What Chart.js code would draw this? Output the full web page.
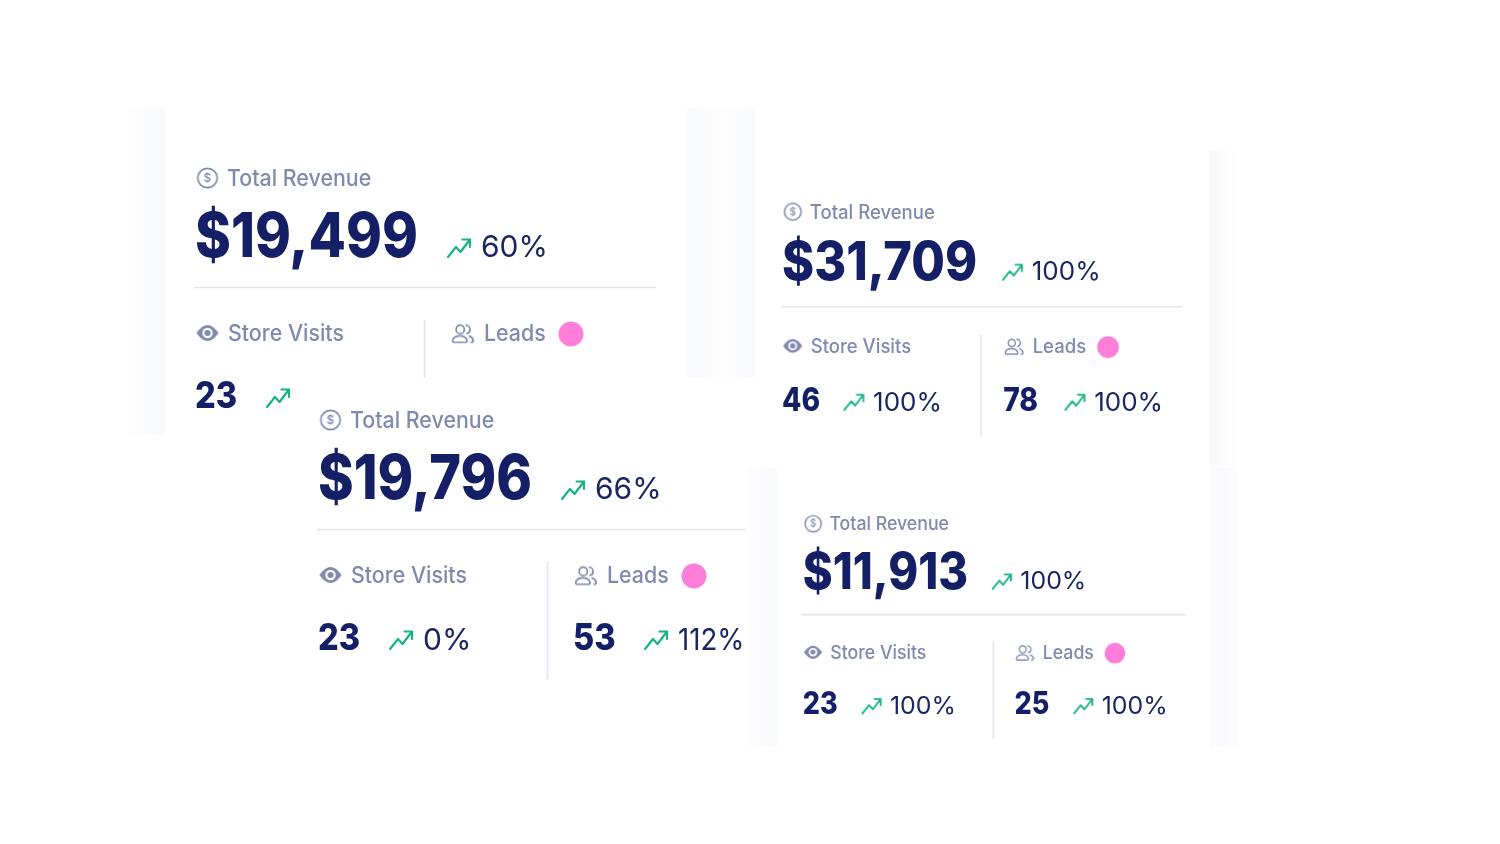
<!DOCTYPE html>
<html><head><meta charset="utf-8">
<style>html,body{margin:0;padding:0;background:#fff;overflow:hidden}canvas{display:block}</style>
<script src="https://cdn.jsdelivr.net/npm/chart.js@4"></script>
</head><body><canvas id="c" width="1500" height="844"></canvas>
<script>
// ---- values (cards: top-left, top-right, centre, bottom-right)
const revenue        = [19499, 31709, 19796, 11913];
const revenueChange  = [60, 100, 66, 100];
const storeVisits    = [23, 46, 23, 23];
const visitsChange   = [null, 100, 0, 100];
const leads          = [null, 78, 53, 25];
const leadsChange    = [null, 100, 112, 100];
const revenueLabel = 'Total Revenue', visitsLabel = 'Store Visits', leadsLabel = 'Leads';

// ---- layout: every card is the same template, translated and scaled
const cards = [
  {x0:0,   y0:0,    s:1,    maxX:656, maxY:378, bigW:223, leadsH:1},
  {x0:613, y0:57.5, s:.867, maxX:9999,maxY:9999,bigW:225, leadsH:1},
  {x0:123, y0:242,  s:1,    maxX:746, maxY:9999,bigW:214, leadsH:.92},
  {x0:641, y0:376,  s:.83,  maxX:9999,maxY:9999,bigW:199, leadsH:1}
];
const NAVY='#141f66', INK='#1b2562', MUTED='#8089ae', RULE='#e2e5ee', PINK='#ff7eda', GREEN='#17b386';
const face = 'Inter';
const px=(c,x)=>c.x0+c.s*x, py=(c,y)=>c.y0+c.s*y;

function measure(font,text){const m=document.createElement('canvas').getContext('2d');m.font=font;return m.measureText(text).width;}
const money=i=>'$'+revenue[i].toLocaleString('en-US');
const bigH=(c,i)=>c.bigW/measure(`800 62px ${face}`,money(i));

function sprite(w,h,draw){const k=document.createElement('canvas');k.width=Math.ceil(w);k.height=Math.ceil(h);draw(k.getContext('2d'),k.width,k.height);return k;}
function arrowIcon(s){return sprite(26*s,22*s,(g)=>{g.scale(s,s);g.strokeStyle=GREEN;g.lineWidth=2.2;g.lineCap='round';g.lineJoin='round';
  g.beginPath();g.moveTo(2,20);g.lineTo(10,10);g.lineTo(14.5,15);g.lineTo(24,2.5);g.moveTo(16.5,2.5);g.lineTo(24,2.5);g.lineTo(24,10);g.stroke();});}
function dollarIcon(s){return sprite(24*s,24*s,(g)=>{g.scale(s,s);g.strokeStyle=MUTED;g.lineWidth=1.7;g.beginPath();g.arc(12,12,9.7,0,7);g.stroke();
  g.fillStyle=MUTED;g.font='500 12px Inter';g.textAlign='center';g.textBaseline='middle';g.fillText('$',12,12.5);});}
function eyeIcon(s){return sprite(26*s,20*s,(g)=>{g.scale(s,s);g.fillStyle=MUTED;g.beginPath();g.moveTo(2,10);g.quadraticCurveTo(13,-6,24,10);g.quadraticCurveTo(13,26,2,10);g.fill();
  g.fillStyle='#fff';g.beginPath();g.arc(13,10,5.2,0,7);g.fill();g.fillStyle=MUTED;g.beginPath();g.arc(13,10,3,0,7);g.fill();});}
function peopleIcon(s){return sprite(26*s,24*s,(g)=>{g.translate(1.2*s,1*s);g.scale(s*.9,s*.92);g.strokeStyle=MUTED;g.lineWidth=1.8;g.lineCap='round';
  g.beginPath();g.arc(10,7.5,4.6,0,7);g.stroke();
  g.beginPath();g.moveTo(3,21.5);g.lineTo(16,21.5);g.quadraticCurveTo(18,21.5,17.5,19);g.quadraticCurveTo(16,14.5,9.5,14.5);g.quadraticCurveTo(3,14.5,1.8,19);g.quadraticCurveTo(1.3,21.5,3,21.5);g.stroke();
  g.beginPath();g.moveTo(16.5,3);g.arc(16.5,7.5,4.5,-Math.PI/2,Math.PI/2.3);g.stroke();
  g.beginPath();g.moveTo(20,14.8);g.quadraticCurveTo(24,16,24.4,20);g.quadraticCurveTo(24.4,21.5,22,21.5);g.stroke();});}

// ---- marks, positioned from the template through the scales
const ruleSets=[], arrowPts=[], arrowStyles=[], iconPts=[], iconStyles=[], dotPts=[], dotR=[];
cards.forEach((c,i)=>{
  ruleSets.push([{x:px(c,194),y:py(c,287.5)},{x:Math.min(px(c,656),c.maxX),y:py(c,287.5)}]);
  ruleSets.push([{x:px(c,424.5),y:py(c,320)},{x:px(c,424.5),y:Math.min(py(c,437),c.maxY)}]);
  const a=arrowIcon(c.s);
  arrowPts.push({x:px(c,195)+(c.bigW+41)*c.s,y:py(c,248)}); arrowStyles.push(a);
  arrowPts.push({x:px(c,278),y:py(c,398)}); arrowStyles.push(a);
  if(leads[i]!==null){arrowPts.push({x:px(c,533),y:py(c,398)}); arrowStyles.push(a);}
  iconPts.push({x:px(c,207.5),y:py(c,178)}); iconStyles.push(dollarIcon(c.s));
  iconPts.push({x:px(c,207.5),y:py(c,333)}); iconStyles.push(eyeIcon(c.s));
  iconPts.push({x:px(c,463),y:py(c,333.5)}); iconStyles.push(peopleIcon(c.s));
  dotPts.push({x:px(c,571),y:py(c,334)}); dotR.push(12.5*c.s);
});

// ---- pale card shadows and the white panels that cover the card behind
const cardBacks={id:'cardBacks',beforeDatasetsDraw(ch){const g=ch.ctx;
  const band=(x,y,w,h,stops)=>{const l=g.createLinearGradient(x,0,x+w,0);stops.forEach((s,k)=>l.addColorStop(k/(stops.length-1),s));g.fillStyle=l;g.fillRect(x,y,w,h);};
  const P='#f8f9fb',W='#ffffff';
  band(128,108,37,327,['#fdfdfe',P]);
  band(687,108,68,270,[P,'#fdfdfe','#f9fafc']);
  g.fillStyle=W;g.fillRect(755,150,455,320);
  band(1209,150,30,317,[P,W]);
  band(748,468,29,279,['#fdfdfe',P]);
  g.fillStyle=W;g.fillRect(777,468,434,279);
  band(1211,468,28,279,[P,'#fdfdfe']);
}};

// ---- real text, drawn on top with the same template
const cardText={id:'cardText',afterDatasetsDraw(ch){const g=ch.ctx;g.save();g.textBaseline='alphabetic';g.textAlign='left';
  const t=(c,str,x,y,font,size,color,h=1)=>{g.save();g.font=font.replace('$',size*c.s);g.fillStyle=color;
    g.translate(x,y);g.scale(h,1);g.fillText(str,0,0);g.restore();};
  cards.forEach((c,i)=>{
    const lab=`500 $px ${face}`, pct=`400 $px ${face}`, big=`800 $px ${face}`;
    t(c,revenueLabel,px(c,227),py(c,186),lab,22.5,MUTED,.95);
    t(c,visitsLabel,px(c,228),py(c,341),lab,22.5,MUTED,.95);
    t(c,leadsLabel,px(c,484),py(c,341),lab,22.5,MUTED,.95);
    t(c,money(i),px(c,195),py(c,257),big,62,NAVY,bigH(c,i));
    t(c,revenueChange[i]+'%',px(c,195)+(c.bigW+63)*c.s,py(c,256.5),pct,30,INK);
    t(c,String(storeVisits[i]),px(c,195),py(c,407.5),big,37,NAVY,.88);
    if(visitsChange[i]!==null) t(c,visitsChange[i]+'%',px(c,300),py(c,407.5),pct,30,INK);
    if(leads[i]!==null){
      t(c,String(leads[i]),px(c,450),py(c,407.5),big,37,NAVY,.88);
      t(c,leadsChange[i]+'%',px(c,555),py(c,407.5),pct,30,INK,c.leadsH);
    }
  });
  g.restore();
}};

new Chart(document.getElementById('c'),{
  type:'scatter',
  data:{datasets:[
    ...ruleSets.map(d=>({type:'line',data:d,borderColor:RULE,borderWidth:1.6,pointRadius:0,parsing:false})),
    {data:arrowPts,pointStyle:arrowStyles,pointRadius:10},
    {data:iconPts,pointStyle:iconStyles,pointRadius:10},
    {data:dotPts,backgroundColor:PINK,borderWidth:0,pointRadius:dotR,pointStyle:'circle'}
  ]},
  options:{responsive:false,animation:false,devicePixelRatio:1,
    layout:{padding:0,autoPadding:false},
    plugins:{legend:{display:false},tooltip:{enabled:false}},events:[],
    scales:{x:{type:'linear',display:false,min:0,max:1500},y:{type:'linear',display:false,min:0,max:844,reverse:true}}},
  plugins:[cardBacks,cardText]
});
</script></body></html>
